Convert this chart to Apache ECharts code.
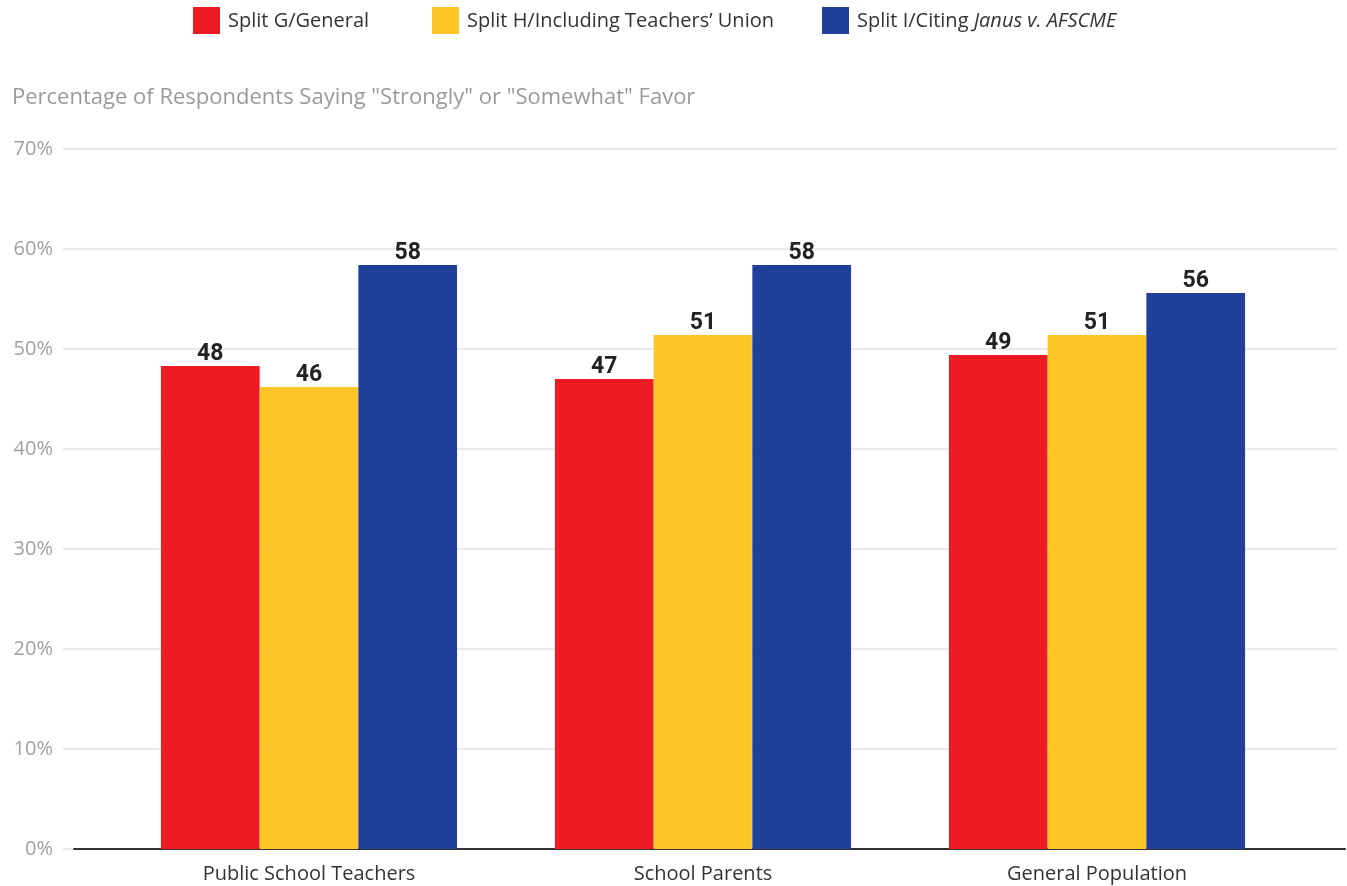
<!DOCTYPE html>
<html>
<head>
<meta charset="utf-8">
<script src="https://cdn.jsdelivr.net/npm/echarts@6/dist/echarts.min.js"></script>
<style>
html,body{margin:0;padding:0;background:#fff;}
#chart{width:1347px;height:886px;}
</style>
</head>
<body>
<div id="chart"></div>
<script>
const categories = ['Public School Teachers', 'School Parents', 'General Population'];
const seriesNames = ['Split G/General', 'Split H/Including Teachers\u2019 Union', 'Split I/Citing Janus v. AFSCME'];
const splitG = [48.3, 47.0, 49.4];
const splitH = [46.2, 51.4, 51.4];
const splitI = [58.4, 58.4, 55.6];
const yTicks = [0, 10, 20, 30, 40, 50, 60, 70];
const subtitle = 'Percentage of Respondents Saying "Strongly" or "Somewhat" Favor';

const FONT = '"Open Sans"';
const LFONT = 'Roboto';
const colors = ['#ED1C24', '#FFC629', '#21409A'];
const yMin = yTicks[0], yMax = yTicks[yTicks.length - 1], yInt = yTicks[1] - yTicks[0];

const chart = echarts.init(document.getElementById('chart'), null, {renderer: 'canvas'});

function legendFor(i, left) {
  return {
    data: [seriesNames[i]],
    left: left, top: 7, padding: 0,
    icon: 'rect', itemWidth: 27, itemHeight: 27,
    itemGap: 0,
    selectedMode: false,
    textStyle: {
      fontFamily: FONT, fontSize: 20, color: '#333', padding: [2, 0, 0, 3],
      rich: {i: {fontFamily: FONT, fontSize: 20, color: '#333', fontStyle: 'italic'}}
    },
    formatter: function (n) {
      if (n.indexOf('Janus') >= 0) return 'Split I/Citing {i|Janus v. AFSCME}';
      return n;
    }
  };
}

const labelCfg = {
  show: true, position: 'top', distance: 0,
  fontFamily: LFONT, fontSize: 23, fontWeight: 'bold', color: '#222',
  formatter: p => Math.round(p.value)
};

function barSeries(i, data) {
  return {
    name: seriesNames[i], type: 'bar', data: data,
    xAxisIndex: 1, yAxisIndex: 1,
    barWidth: 98.7, barGap: '0%',
    itemStyle: {color: colors[i]},
    label: labelCfg,
    emphasis: {disabled: true},
    animation: false
  };
}

chart.setOption({
  animation: false,
  backgroundColor: '#fff',
  title: {
    text: subtitle, left: 12, top: 87, padding: 0,
    textStyle: {fontFamily: FONT, fontSize: 22, fontWeight: 'normal', color: '#9a9a9a'}
  },
  legend: [legendFor(0, 193), legendFor(1, 432), legendFor(2, 822)],
  grid: [
    {left: 63, right: 10, top: 149, bottom: 37},
    {left: 112, right: 53, top: 149, bottom: 37},
    {left: 74, right: 2, top: 149, bottom: 37}
  ],
  xAxis: [
    {gridIndex: 0, type: 'category', data: categories, show: false},
    {gridIndex: 1, type: 'category', data: categories,
      axisLine: {show: false}, axisTick: {show: false},
      axisLabel: {fontFamily: FONT, fontSize: 20, color: '#333', margin: 15}},
    {gridIndex: 2, type: 'category', data: categories,
      axisLine: {show: true, lineStyle: {color: '#333', width: 2}},
      axisTick: {show: false}, axisLabel: {show: false}}
  ],
  yAxis: [
    {gridIndex: 0, type: 'value', min: yMin, max: yMax, interval: yInt,
      axisLine: {show: false}, axisTick: {show: false},
      splitLine: {show: true, lineStyle: {color: '#e2e2e2', width: 1.5}},
      axisLabel: {fontFamily: FONT, fontSize: 20, color: '#a0a0a0', margin: 10,
        padding: [3, 0, 0, 0], formatter: v => v + '%'}},
    {gridIndex: 1, type: 'value', min: yMin, max: yMax, interval: yInt, show: false, splitLine: {show: false}},
    {gridIndex: 2, type: 'value', min: yMin, max: yMax, interval: yInt, show: false, splitLine: {show: false}}
  ],
  series: [
    barSeries(0, splitG),
    barSeries(1, splitH),
    barSeries(2, splitI)
  ]
});
</script>
</body>
</html>
